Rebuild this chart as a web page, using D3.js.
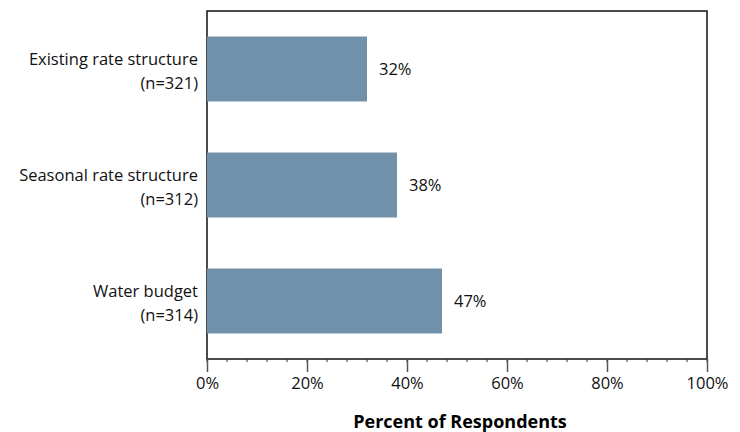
<!DOCTYPE html>
<html>
<head>
<meta charset="utf-8">
<script src="https://cdn.jsdelivr.net/npm/d3@7"></script>
<style>
  body { margin: 0; background: #fff; }
  svg { font-family: "Open Sans", "Noto Sans", sans-serif; }
</style>
</head>
<body>
<svg id="chart" width="740" height="432"></svg>
<script>
const categories = ["Existing rate structure", "Seasonal rate structure", "Water budget"];
const sampleSizes = ["(n=321)", "(n=312)", "(n=314)"];
const values = [32, 38, 47];
const majorTicks = [0, 20, 40, 60, 80, 100];

const svg = d3.select("#chart");
const margin = { left: 207, right: 33, top: 11, bottom: 73 };
const W = 740, H = 432;
const x = d3.scaleLinear().domain([0, 100]).range([margin.left, W - margin.right]);
const y = d3.scaleBand().domain(categories)
  .range([margin.top, H - margin.bottom])
  .paddingInner(0.44).paddingOuter(0.22);

// frame
svg.append("rect")
  .attr("x", x(0)).attr("y", margin.top)
  .attr("width", x(100) - x(0)).attr("height", H - margin.bottom - margin.top)
  .attr("fill", "none").attr("stroke", "#111").attr("stroke-width", 1.5);

// bars
svg.append("g").selectAll("rect")
  .data(values)
  .join("rect")
  .attr("x", x(0))
  .attr("y", (d, i) => y(categories[i]))
  .attr("width", d => x(d) - x(0))
  .attr("height", y.bandwidth())
  .attr("fill", "#7091a9");

// value labels
svg.append("g").selectAll("text")
  .data(values)
  .join("text")
  .attr("x", d => x(d) + 12)
  .attr("y", (d, i) => y(categories[i]) + y.bandwidth() / 2)
  .attr("dy", "0.35em")
  .attr("font-size", 16.5)
  .attr("fill", "#111")
  .text(d => d + "%");

// category labels
const cat = svg.append("g").selectAll("text")
  .data(categories)
  .join("text")
  .attr("text-anchor", "end")
  .attr("font-size", 16.5)
  .attr("fill", "#111")
  .attr("y", d => y(d) + y.bandwidth() / 2);
cat.append("tspan").attr("x", 198).attr("dy", "-0.22em").text(d => d);
cat.append("tspan").attr("x", 198).attr("dy", "1.42em").text((d, i) => sampleSizes[i]);

// minor ticks
const axisY = H - margin.bottom;
svg.append("g").selectAll("line")
  .data(d3.range(0, 101, 4))
  .join("line")
  .attr("x1", d => x(d)).attr("x2", d => x(d))
  .attr("y1", axisY).attr("y2", axisY + 3)
  .attr("stroke", "#333").attr("stroke-width", 1);

// major axis
const xAxis = d3.axisBottom(x)
  .tickValues(majorTicks)
  .tickFormat(d => d + "%")
  .tickSize(13)
  .tickPadding(5);
const ax = svg.append("g")
  .attr("transform", `translate(0,${axisY})`)
  .call(xAxis);
ax.select(".domain").remove();
ax.selectAll(".tick line").attr("stroke", "#555").attr("stroke-width", 1.5);
ax.selectAll(".tick text").attr("font-size", 16.5).attr("fill", "#111")
  .attr("font-family", "'Open Sans', 'Noto Sans', sans-serif");

// axis title
svg.append("text")
  .attr("x", 460)
  .attr("y", 428)
  .attr("text-anchor", "middle")
  .attr("font-size", 18)
  .attr("font-weight", "bold")
  .attr("fill", "#000")
  .text("Percent of Respondents");
</script>
</body>
</html>
